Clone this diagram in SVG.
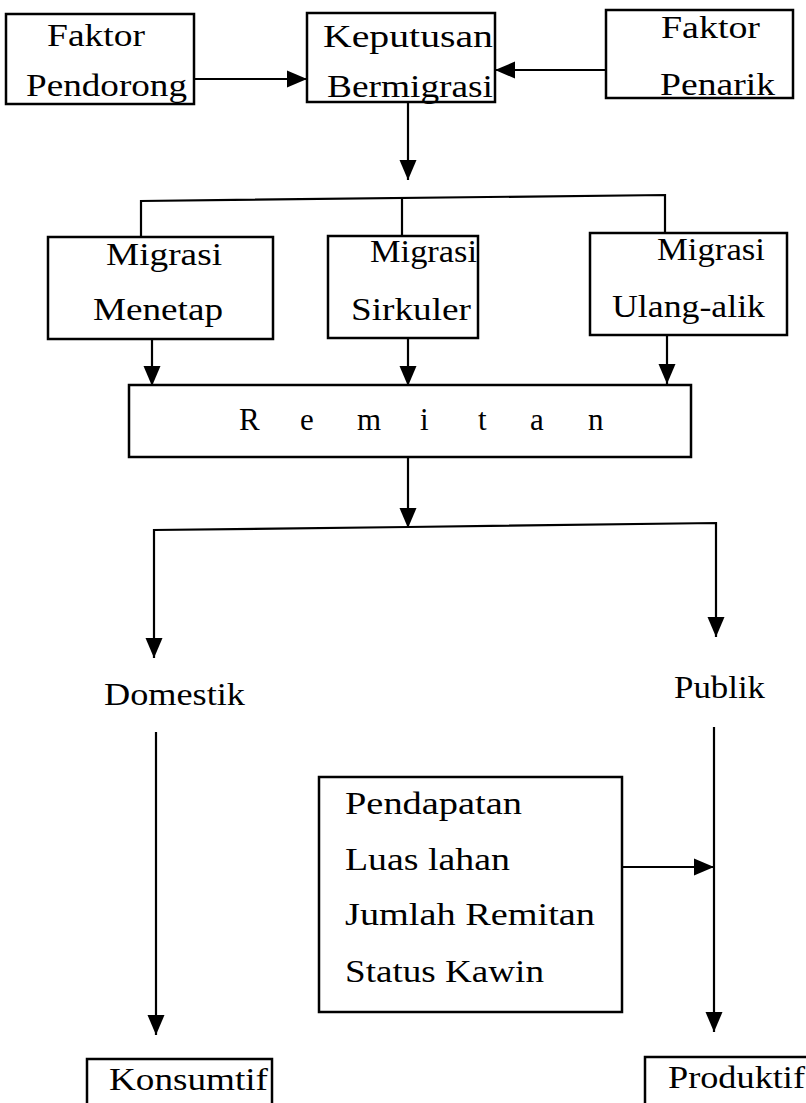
<svg xmlns="http://www.w3.org/2000/svg" width="806" height="1103" viewBox="0 0 806 1103">
<defs>
<marker id="ah" markerUnits="userSpaceOnUse" markerWidth="22" markerHeight="22" viewBox="0 0 22 22" refX="20" refY="11" orient="auto">
<path d="M0,2.5 L20,11 L0,19.5 Z" fill="#000"/>
</marker>
</defs>
<style>
rect{fill:#fff;stroke:#000;stroke-width:2.5}
text{font-family:"Liberation Serif","DejaVu Serif",serif;font-size:31px;fill:#000}
.c line,.c polyline{stroke:#000;stroke-width:2.2;fill:none}
.a{marker-end:url(#ah)}
</style>
<rect x="0" y="0" width="806" height="1103" style="fill:#fff;stroke:none"/>
<g class="c" id="connectors">
<line class="a" x1="194" y1="79" x2="307" y2="79"/>
<line class="a" x1="606" y1="70" x2="495" y2="70"/>
<line class="a" x1="408" y1="102" x2="408" y2="180"/>
<polyline points="141,237 141,201 665,195 665,233"/>
<line x1="402" y1="198" x2="402" y2="236"/>
<line class="a" x1="152" y1="339" x2="152" y2="386"/>
<line class="a" x1="408" y1="338" x2="408" y2="386"/>
<line class="a" x1="667" y1="335" x2="667" y2="384"/>
<line class="a" x1="408" y1="457" x2="408" y2="528"/>
<polyline class="a" points="408,527 154,530 154,658"/>
<polyline class="a" points="408,527 716,523 716,637"/>
<line class="a" x1="156" y1="732" x2="156" y2="1035"/>
<line class="a" x1="714" y1="727" x2="714" y2="1032"/>
<line class="a" x1="622" y1="867" x2="714" y2="867"/>
</g>
<g id="faktor-pendorong">
<rect x="6" y="14" width="188" height="90"/>
<text x="47" y="46" textLength="98" lengthAdjust="spacingAndGlyphs">Faktor</text>
<text x="26" y="96" textLength="161" lengthAdjust="spacingAndGlyphs">Pendorong</text>
</g>
<g id="keputusan">
<rect x="307" y="13" width="188" height="89"/>
<text x="323" y="47" textLength="170" lengthAdjust="spacingAndGlyphs">Keputusan</text>
<text x="327" y="97" textLength="166" lengthAdjust="spacingAndGlyphs">Bermigrasi</text>
</g>
<g id="faktor-penarik">
<rect x="606" y="10" width="187" height="88"/>
<text x="661" y="38" textLength="99" lengthAdjust="spacingAndGlyphs">Faktor</text>
<text x="660" y="95" textLength="115" lengthAdjust="spacingAndGlyphs">Penarik</text>
</g>
<g id="migrasi-menetap">
<rect x="48" y="237" width="225" height="102"/>
<text x="106" y="265" textLength="116" lengthAdjust="spacingAndGlyphs">Migrasi</text>
<text x="93" y="320" textLength="130" lengthAdjust="spacingAndGlyphs">Menetap</text>
</g>
<g id="migrasi-sirkuler">
<rect x="328" y="236" width="150" height="102"/>
<text x="370" y="262" textLength="107" lengthAdjust="spacingAndGlyphs">Migrasi</text>
<text x="351" y="320" textLength="120" lengthAdjust="spacingAndGlyphs">Sirkuler</text>
</g>
<g id="migrasi-ulang-alik">
<rect x="590" y="233" width="197" height="102"/>
<text x="657" y="260" textLength="108" lengthAdjust="spacingAndGlyphs">Migrasi</text>
<text x="612" y="317" textLength="153" lengthAdjust="spacingAndGlyphs">Ulang-alik</text>
</g>
<g id="remitan">
<rect x="129" y="385" width="562" height="72"/>
<text y="430"><tspan x="239">R</tspan><tspan x="300">e</tspan><tspan x="357">m</tspan><tspan x="420">i</tspan><tspan x="478">t</tspan><tspan x="530">a</tspan><tspan x="588">n</tspan></text>
</g>
<g id="domestik">
<text x="104" y="705" textLength="141" lengthAdjust="spacingAndGlyphs">Domestik</text>
</g>
<g id="publik">
<text x="674" y="698" textLength="91" lengthAdjust="spacingAndGlyphs">Publik</text>
</g>
<g id="faktor-lain">
<rect x="319" y="777" width="303" height="235"/>
<text x="345" y="814" textLength="177" lengthAdjust="spacingAndGlyphs">Pendapatan</text>
<text x="345" y="870" textLength="165" lengthAdjust="spacingAndGlyphs">Luas lahan</text>
<text x="345" y="925" textLength="250" lengthAdjust="spacingAndGlyphs">Jumlah Remitan</text>
<text x="345" y="982" textLength="199" lengthAdjust="spacingAndGlyphs">Status Kawin</text>
</g>
<g id="konsumtif">
<rect x="87" y="1059" width="185" height="60"/>
<text x="109" y="1090" textLength="159" lengthAdjust="spacingAndGlyphs">Konsumtif</text>
</g>
<g id="produktif">
<rect x="645" y="1057" width="180" height="60"/>
<text x="668" y="1088" textLength="137" lengthAdjust="spacingAndGlyphs">Produktif</text>
</g>
</svg>
